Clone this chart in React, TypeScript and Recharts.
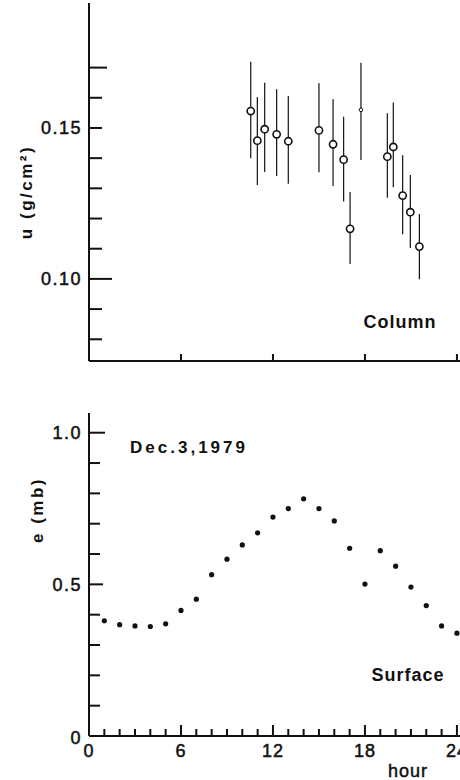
import React from 'react';
import { ScatterChart, Scatter, XAxis, YAxis, ErrorBar } from 'recharts';

// Column water vapour (top panel)
const colHours = [10.55, 10.98, 11.46, 12.24, 13.0, 15.0, 15.92, 16.61, 17.03, 17.74, 19.46, 19.85, 20.46, 20.96, 21.55];
const colU = [0.1556, 0.1458, 0.1496, 0.1479, 0.1456, 0.1492, 0.1446, 0.1395, 0.1166, 0.156, 0.1405, 0.1437, 0.1276, 0.1221, 0.1107];
const colLow = [0.14, 0.1311, 0.1354, 0.1341, 0.1315, 0.1353, 0.1308, 0.1256, 0.1049, 0.1394, 0.1269, 0.1304, 0.1148, 0.1102, 0.0999];
const colHigh = [0.1719, 0.1603, 0.165, 0.1628, 0.1606, 0.1648, 0.1595, 0.1537, 0.1288, 0.1716, 0.1549, 0.1584, 0.141, 0.1344, 0.1215];
const colXTicks = [6, 12, 18, 24];
const colYTicks = [0.08, 0.09, 0.1, 0.11, 0.12, 0.13, 0.14, 0.15, 0.16, 0.17];
const colYLabelValues = [0.1, 0.15];
const colYLabelTexts = ['0.10', '0.15'];

// Surface vapour pressure (bottom panel)
const surfHours = [1, 2, 3, 4, 5, 6, 7, 8, 9, 10, 11, 12, 13, 14, 15, 16, 17, 18, 19, 20, 21, 22, 23, 24];
const surfE = [0.38, 0.367, 0.363, 0.361, 0.37, 0.414, 0.451, 0.532, 0.583, 0.63, 0.67, 0.722, 0.75, 0.782, 0.75, 0.709, 0.619, 0.501, 0.611, 0.56, 0.491, 0.43, 0.363, 0.339];
const surfXTicks = [0, 1, 2, 3, 4, 5, 6, 7, 8, 9, 10, 11, 12, 13, 14, 15, 16, 17, 18, 19, 20, 21, 22, 23, 24];
const surfXLabelValues = [0, 6, 12, 18, 24];
const surfXLabelTexts = ['0', '6', '12', '18', '24'];
const surfYTicks = [0, 0.1, 0.2, 0.3, 0.4, 0.5, 0.6, 0.7, 0.8, 0.9, 1.0];
const surfYLabelValues = [0, 0.5, 1.0];
const surfYLabelTexts = ['0', '0.5', '1.0'];

const columnData = colHours.map((h, i) => ({
  hour: h,
  u: colU[i],
  err: [colU[i] - colLow[i], colHigh[i] - colU[i]],
}));
const surfaceData = surfHours.map((h, i) => ({ hour: h, e: surfE[i] }));

const FONT = '"Liberation Sans", Arial, sans-serif';
const INK = '#111';

const same = (a: number, b: number) => Math.abs(a - b) < 1e-6;
const labelFor = (v: number, values: number[], texts: string[]) => {
  const i = values.findIndex((x) => same(x, v));
  return i >= 0 ? texts[i] : null;
};

// tick text is a bit heavier in the scan, so give it a thin outline
const tickText = { fontSize: 18, fontFamily: FONT, fill: INK, stroke: INK, strokeWidth: 0.5 };

function ColYTick(props: any) {
  const { x, y, payload } = props;
  const v = payload.value;
  const label = labelFor(v, colYLabelValues, colYLabelTexts);
  const len = same(v, 0.1) ? 23 : same(v, 0.17) ? 18 : 13;
  return (
    <g>
      <line x1={x} y1={y} x2={x + len} y2={y} stroke={INK} strokeWidth={2} />
      {label && (
        <text x={x - 7} y={y} dy={6.5} textAnchor="end" letterSpacing={1.5} {...tickText}>
          {label}
        </text>
      )}
    </g>
  );
}

function ColXTick(props: any) {
  const { x, y } = props;
  return <line x1={x} y1={y} x2={x} y2={y - 7} stroke={INK} strokeWidth={2} />;
}

function SurfYTick(props: any) {
  const { x, y, payload } = props;
  const v = payload.value;
  const label = labelFor(v, surfYLabelValues, surfYLabelTexts);
  const len = same(v, 0) ? 0 : same(v, 1) ? 16 : same(v, 0.5) ? 14 : 11;
  return (
    <g>
      {len > 0 && <line x1={x} y1={y} x2={x + len} y2={y} stroke={INK} strokeWidth={2} />}
      {label && (
        <text x={x - 7} y={y} dy={same(v, 0) ? 8 : 6.5} textAnchor="end" letterSpacing={1.5} {...tickText}>
          {label}
        </text>
      )}
    </g>
  );
}

function SurfXTick(props: any) {
  const { x, y, payload } = props;
  const v = payload.value;
  const label = labelFor(v, surfXLabelValues, surfXLabelTexts);
  const len = same(v, 0) ? 0 : v % 6 === 0 ? 11 : 7;
  return (
    <g>
      {len > 0 && <line x1={x} y1={y} x2={x} y2={y - len} stroke={INK} strokeWidth={2} />}
      {label && (
        <text x={x} y={y} dy={21} textAnchor="middle" letterSpacing={1} {...tickText}>
          {label}
        </text>
      )}
    </g>
  );
}

const textStyle: React.CSSProperties = {
  position: 'absolute',
  fontFamily: FONT,
  fontWeight: 'bold',
  color: INK,
  lineHeight: 1,
  whiteSpace: 'nowrap',
  transform: 'translate(-50%, -50%)',
};

export default function App() {
  return (
    <div style={{ position: 'absolute', left: 0, top: 0, width: 460, height: 780, background: '#fff', overflow: 'hidden' }}>
      <div style={{ position: 'absolute', left: 0, top: 0 }}>
        <ScatterChart width={460} height={370} margin={{ top: 3, right: 0, bottom: 0, left: 0 }}>
          <XAxis
            type="number"
            dataKey="hour"
            domain={[0, 24.2]}
            allowDataOverflow
            ticks={colXTicks}
            interval={0}
            height={9}
            tickSize={0}
            tickMargin={0}
            tickLine={false}
            axisLine={{ stroke: INK, strokeWidth: 2 }}
            tick={(p: any) => <ColXTick {...p} />}
          />
          <YAxis
            type="number"
            dataKey="u"
            domain={[0.0728, 0.1914]}
            allowDataOverflow
            ticks={colYTicks}
            interval={0}
            width={89}
            tickSize={0}
            tickMargin={0}
            tickLine={false}
            axisLine={{ stroke: INK, strokeWidth: 2 }}
            tick={(p: any) => <ColYTick {...p} />}
          />
          <Scatter
            data={columnData}
            isAnimationActive={false}
            shape={(p: any) => (
              <circle
                cx={p.cx}
                cy={p.cy}
                r={p.index === 9 ? 1.8 : 3.6}
                fill="#fff"
                stroke={INK}
                strokeWidth={p.index === 9 ? 1 : 1.6}
              />
            )}
          >
            <ErrorBar dataKey="err" direction="y" width={0} stroke={INK} strokeWidth={1.2} />
          </Scatter>
        </ScatterChart>
      </div>

      <div style={{ position: 'absolute', left: 0, top: 380 }}>
        <ScatterChart width={460} height={400} margin={{ top: 33, right: 0, bottom: 0, left: 0 }}>
          <XAxis
            type="number"
            dataKey="hour"
            domain={[0, 24.2]}
            allowDataOverflow
            ticks={surfXTicks}
            interval={0}
            height={44}
            tickSize={0}
            tickMargin={0}
            tickLine={false}
            axisLine={{ stroke: INK, strokeWidth: 2 }}
            tick={(p: any) => <SurfXTick {...p} />}
          />
          <YAxis
            type="number"
            dataKey="e"
            domain={[0, 1.065]}
            allowDataOverflow
            ticks={surfYTicks}
            interval={0}
            width={89}
            tickSize={0}
            tickMargin={0}
            tickLine={false}
            axisLine={{ stroke: INK, strokeWidth: 2 }}
            tick={(p: any) => <SurfYTick {...p} />}
          />
          <Scatter
            data={surfaceData}
            isAnimationActive={false}
            shape={(p: any) => <circle cx={p.cx} cy={p.cy} r={2.6} fill={INK} />}
          />
        </ScatterChart>
      </div>

      <div style={{ ...textStyle, left: 26, top: 192, fontSize: 17, letterSpacing: 2.5, transform: 'translate(-50%, -50%) rotate(-90deg)' }}>
        u (g/cm²)
      </div>
      <div style={{ ...textStyle, left: 37, top: 510, fontSize: 17, letterSpacing: 2.5, transform: 'translate(-50%, -50%) rotate(-90deg)' }}>
        e (mb)
      </div>
      <div style={{ ...textStyle, left: 400, top: 322, fontSize: 18, letterSpacing: 1 }}>Column</div>
      <div style={{ ...textStyle, left: 189, top: 447, fontSize: 17, letterSpacing: 3 }}>Dec.3,1979</div>
      <div style={{ ...textStyle, left: 408, top: 675, fontSize: 18, letterSpacing: 1 }}>Surface</div>
      <div style={{ ...textStyle, left: 408, top: 771, fontSize: 18, fontWeight: 'normal', WebkitTextStroke: '0.5px #111', letterSpacing: 1 }}>
        hour
      </div>
    </div>
  );
}
